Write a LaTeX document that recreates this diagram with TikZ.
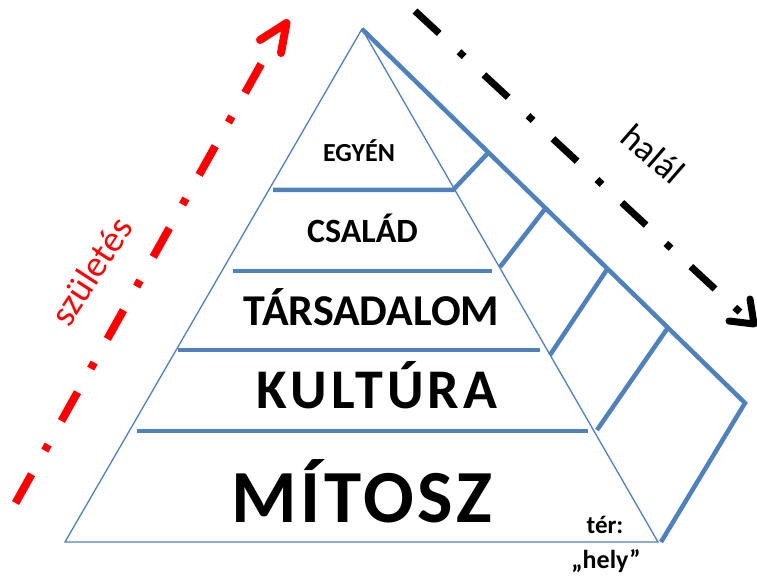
\documentclass[tikz,border=0pt]{standalone}
\usepackage{fontspec}
\setmainfont{Carlito}
\definecolor{pblue}{HTML}{4F81BD}
\definecolor{pred}{HTML}{FF0000}
\begin{document}
\begin{tikzpicture}[x=1pt,y=-1pt,
  pthin/.style={draw=pblue,line width=1.3pt},
  pthick/.style={draw=pblue,line width=4.5pt},
  lvl/.style={anchor=base,inner sep=0pt},
  dashdot/.style={dash pattern=on 33pt off 27pt on 7pt off 27pt, line cap=butt},
  barb/.style={line cap=round,line join=round,solid},
]
\useasboundingbox (0,0) rectangle (757,577);
\fill[white] (0,0) rectangle (757,577);
% pyramid
\coordinate (A) at (362,29);
\coordinate (BL) at (65,542);
\coordinate (BR) at (658,542);
\draw[pthin] (BL) -- (A) -- (BR) -- cycle;
% level lines and side structure
\draw[pthick] (273,190) -- (453,190) -- (488,153);
\draw[pthick] (233,271) -- (492,271);
\draw[pthick] (500,267) -- (545,209);
\draw[pthick] (178,350) -- (540,350);
\draw[pthick] (550,355) -- (608,268);
\draw[pthick] (137,431) -- (588,431);
\draw[pthick] (597,430) -- (667,329);
\draw[pthick,line join=miter] (A) -- (745,403) -- (661,542);
% texts
\node[lvl,font=\bfseries\fontsize{26}{26}\selectfont] (egyen) at (359,162) {EGYÉN};
\node[lvl,font=\bfseries\fontsize{34}{34}\selectfont] (csalad) at (362.5,243) {CSALÁD};
\node[lvl,font=\bfseries\fontsize{44}{44}\selectfont] (tars) at (371.5,325) {TÁRSADALOM};
\node[lvl,font=\bfseries\fontsize{56}{56}\selectfont\addfontfeatures{LetterSpace=7.5}] (kult) at (377,408) {KULTÚRA};
\node[lvl,font=\bfseries\fontsize{75}{75}\selectfont\addfontfeatures{LetterSpace=5}] (mitosz) at (362,522) {MÍTOSZ};
\node[lvl,font=\bfseries\fontsize{25}{25}\selectfont] (ter) at (605,533) {tér:};
\node[lvl,font=\bfseries\fontsize{26}{26}\selectfont] (hely) at (606,568) {„hely”};
\node[inner sep=0pt,rotate=-41,font=\fontsize{36}{36}\selectfont] (halal) at (653,154) {halál};
\node[inner sep=0pt,rotate=57,text=pred,font=\fontsize{37}{37}\selectfont] (szul) at (91,271) {születés};
% red arrow (születés)
\coordinate (rs) at (15.5,503);
\coordinate (re) at (264.4,58.3);
\coordinate (rt) at (286.5,23);
\coordinate (ra1) at (260,40);
\coordinate (ra2) at (281,53);
\draw[pred,line width=8pt,dashdot] (rs) -- (re);
\draw[pred,line width=8pt,barb] (ra1) -- (rt) -- (ra2);
% black arrow (halál)
\coordinate (bs) at (415,11);
\coordinate (be) at (748.7,320.2);
\coordinate (bt) at (754,324);
\coordinate (ba1) at (750,299);
\coordinate (ba2) at (729,321);
\draw[black,line width=7pt,dashdot] (bs) -- (be);
\draw[black,line width=7pt,barb] (ba1) -- (bt) -- (ba2);
\end{tikzpicture}
\end{document}
